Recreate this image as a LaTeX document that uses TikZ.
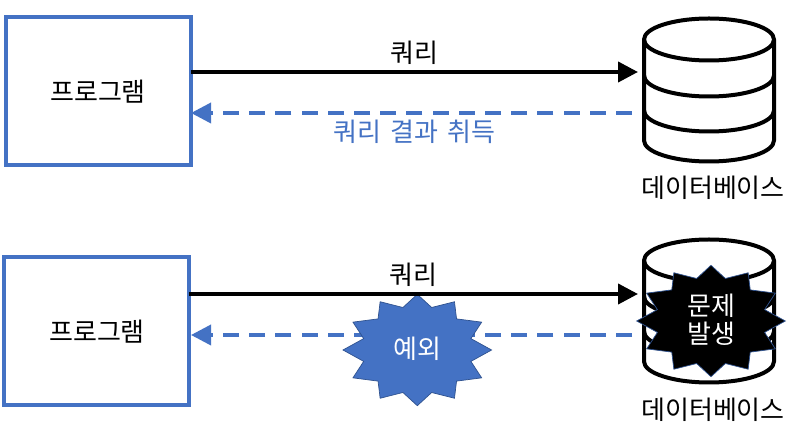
\documentclass[tikz,border=0pt]{standalone}
\usepackage{fontspec}
\setmainfont{Noto Sans CJK KR}
\usetikzlibrary{arrows.meta}
\definecolor{accentblue}{HTML}{4472C4}
\definecolor{edgeblue}{HTML}{2F528F}
\tikzset{
  progbox/.style={draw=accentblue,line width=3.6pt,fill=white,minimum width=185pt,minimum height=148pt,inner sep=0pt,outer sep=0pt},
  lbl/.style={font=\fontsize{26}{28}\selectfont,inner sep=0pt},
  dbanchor/.style={minimum width=130pt,minimum height=142pt,inner sep=0pt,outer sep=0pt},
  dbline/.style={line width=4pt,draw=black,line join=round},
  solidarrow/.style={line width=4pt,draw=black,-{Triangle[length=20pt,width=20pt]}},
  dasharrow/.style={line width=3.6pt,draw=accentblue,dash pattern=on 16pt off 10.2pt,-{Triangle[length=20pt,width=20pt]}},
  starblue/.style={fill=accentblue,draw=edgeblue,line width=.7pt,line join=miter},
  starblack/.style={fill=black,draw=edgeblue,line width=.7pt,line join=miter}
}
\newcommand{\dbshape}[1]{%
  \begin{scope}[shift={(#1)}]
    \draw[dbline] (0,51) ellipse [x radius=65pt,y radius=21pt];
    \draw[dbline] (-65,51) -- (-65,-50) arc[start angle=180,end angle=360,x radius=65pt,y radius=21pt] -- (65,51);
    \draw[dbline] (-65,15) arc[start angle=180,end angle=360,x radius=65pt,y radius=21pt];
    \draw[dbline] (-65,-20) arc[start angle=180,end angle=360,x radius=65pt,y radius=21pt];
  \end{scope}}
\newcommand{\burst}[2]{%
  \begin{scope}[shift={(#1)}]
    \draw[#2] (0,55.7)
      \foreach \k in {0,...,11}{
        -- ({55.5*sin(15+30*\k)},{44*cos(15+30*\k)})
        -- ({74.3*sin(30+30*\k)},{55.7*cos(30+30*\k)})
      } -- cycle;
  \end{scope}}
\begin{document}
\begin{tikzpicture}[x=1pt,y=1pt]
\useasboundingbox (0,0) rectangle (793,-427);
\fill[white] (0,0) rectangle (793,-427);

% top row
\node[progbox] (prog1) at (98.5,-91) {};
\node[lbl] (prog1t) at (98,-92) {프로그램};
\node[dbanchor] (db1) at (709,-90.5) {};
\dbshape{709,-90.5}
\node[lbl] (db1t) at (713,-188) {데이터베이스};
\draw[solidarrow] ([yshift=19pt]prog1.east) -- ([xshift=-6pt,yshift=18.5pt]db1.west) node[midway,above=5pt,lbl] (q1) {쿼리};
\draw[dasharrow] ([xshift=-12pt,yshift=-22.5pt]db1.west) -- ([yshift=-22pt]prog1.east) node[pos=.493,below=5pt,lbl,text=accentblue] (r1) {\spaceskip=9pt 쿼리 결과 취득};

% bottom row
\node[progbox] (prog2) at (96.5,-331) {};
\node[lbl] (prog2t) at (97,-332) {프로그램};
\node[dbanchor] (db2) at (709,-311.5) {};
\dbshape{709,-311.5}
\node[lbl] (db2t) at (713,-410) {데이터베이스};
\draw[dasharrow] ([xshift=-12pt,yshift=-23.5pt]db2.west) -- ([xshift=2pt,yshift=-4pt]prog2.east);
\burst{417.3,-350}{starblue}
\node[lbl,text=white] (exc) at (417,-349) {예외};
\burst{711,-321}{starblack}
\node[lbl,text=white,align=center,font=\fontsize{26}{28}\selectfont] (prob) at (711,-320) {문제\\발생};
\draw[solidarrow] ([yshift=37pt]prog2.east) -- ([xshift=-6pt,yshift=17.5pt]db2.west) node[midway,above=5pt,lbl] (q2) {쿼리};
\end{tikzpicture}
\end{document}
